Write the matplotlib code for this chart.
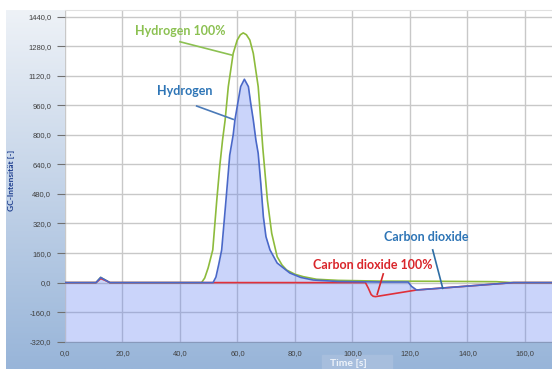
import matplotlib
matplotlib.use("Agg")
import matplotlib.pyplot as plt
import numpy as np
from matplotlib.colors import LinearSegmentedColormap

# chromatogram traces (time in s, intensity)
t_h2_100 = [0, 10.8, 12.4, 14.0, 15.6, 47.5, 48.6, 49.8, 51.4, 52.8, 53.9, 54.8, 55.7, 56.8, 58.5,
            59.9, 61.0, 62.0, 63.1, 64.3, 65.5, 67.2, 68.1, 68.8, 70.4, 71.9, 73.8, 75.5, 77.1,
            80.0, 82.9, 87.5, 95.0, 110.0, 130.0, 150.0, 155.8, 169.4]
h2_100 = [0, 0, 28, 14, 0, 0, 25, 80, 177, 447, 640, 772, 880, 1061, 1241,
          1313, 1342, 1352, 1342, 1313, 1241, 1061, 880, 730, 447, 267, 140, 95, 68,
          45, 32, 18, 12, 8, 7, 5, 0, 0]

t_h2 = [0, 10.8, 12.4, 14.0, 15.6, 51.5, 52.5, 53.5, 54.5, 56.0, 57.3, 58.5, 59.1, 60.1, 61.1,
        62.4, 63.8, 64.6, 65.5, 66.4, 67.2, 68.1, 69.0, 69.9, 71.3, 73.8, 78.2, 82.0, 86.3,
        95.0, 110.0, 119.4, 120.5, 122.3, 156.0, 169.4]
h2 = [0, 0, 28, 14, 0, 0, 30, 100, 177, 447, 690, 800, 880, 971, 1061,
      1101, 1061, 971, 880, 772, 700, 538, 357, 249, 177, 106, 52, 28, 14,
      6, 3, 3, -20, -40, 0, 0]

t_co2_100 = [0, 10.8, 12.4, 14.0, 15.6, 104.5, 105.5, 106.5, 107.2, 108.0, 122.3, 156.0, 169.4]
co2_100 = [0, 0, 22, 12, 0, 0, -30, -65, -74, -76, -40, 0, 0]

x_ticks = [0, 20, 40, 60, 80, 100, 120, 140, 160]
y_ticks = [-320, -160, 0, 160, 320, 480, 640, 800, 960, 1120, 1280, 1440]

W, H = 552, 369
fig = plt.figure(figsize=(W / 100, H / 100), dpi=100)
fig.patch.set_facecolor("white")

# blue gradient frame behind the plot
bg = fig.add_axes([6 / W, 0, 1 - 6 / W, 1 - 10 / H])
cmap = LinearSegmentedColormap.from_list("frame", ["#eef2f7", "#c3d3e8", "#98b5d9"])
bg.imshow(np.linspace(0, 1, 256).reshape(-1, 1), aspect="auto", cmap=cmap,
          extent=[0, 1, 0, 1], origin="upper")
bg.set_axis_off()
bg.add_patch(plt.Rectangle(((322 - 6) / (W - 6), 0), 70 / (W - 6), 14 / (H - 10),
                           transform=bg.transAxes, color="#a7bedd", zorder=2))

ax = fig.add_axes([65 / W, (H - 341.7) / H, (W - 65) / W, (341.7 - 10) / H])
ax.set_facecolor("white")
ax.set_xlim(0, 169.4)
ax.set_ylim(-320, 1476)

ax.set_xticks(x_ticks)
ax.set_yticks(y_ticks)
ax.set_xticklabels([f"{v:.1f}".replace(".", ",") for v in x_ticks])
ax.set_yticklabels([f"{v:.1f}".replace(".", ",") for v in y_ticks])
ax.tick_params(axis="y", length=6, width=0.8, color="#707070", pad=4,
               labelsize=5.5, labelcolor="#404040")
ax.tick_params(axis="x", length=0, pad=6, labelsize=5.5, labelcolor="#404040")
for lab in ax.get_xticklabels() + ax.get_yticklabels():
    lab.set_family("Liberation Sans")

ax.grid(True, color="#c8c8c8", linewidth=1.0, zorder=0.5)
ax.set_axisbelow(True)
for s in ["left", "right"]:
    ax.spines[s].set_visible(False)
ax.spines["top"].set_color("#e0e0e0")
ax.spines["bottom"].set_color("#8899bb")

ax.fill_between(t_h2, h2, -320, color="#5f7ff0", alpha=0.33, linewidth=0, zorder=1)
ax.plot(t_h2_100, h2_100, color="#8dbb3c", lw=1.2, zorder=3)
ax.plot(t_co2_100, co2_100, color="#e0303a", lw=1.2, zorder=3)
ax.plot(t_h2, h2, color="#4a68c8", lw=1.2, zorder=4)

lab_font = dict(family="Lato", weight="bold", fontsize=9, ha="center", va="center", zorder=6)
ax.text(40.0, 1362, "Hydrogen 100%", color="#8cc152", **lab_font)
ax.plot([40.0, 58.0], [1304, 1232], color="#8cc152", lw=1.2, zorder=5)
ax.text(41.8, 1037, "Hydrogen", color="#2e75b6", **lab_font)
ax.plot([45.8, 58.5], [956, 884], color="#4a7ab8", lw=1.2, zorder=5)
ax.text(125.6, 247, "Carbon dioxide", color="#2e75b6", **lab_font)
ax.plot([127.9, 131.4], [177, -31], color="#2e6da4", lw=1.2, zorder=5)
ax.text(107.0, 95, "Carbon dioxide 100%", color="#d9262b", **lab_font)
ax.plot([110.7, 108.6], [47, -63], color="#d9262b", lw=1.2, zorder=5)

fig.text(12 / W, 1 - 180 / H, "GC-Intensität [-]", rotation=90, ha="center", va="center",
         fontsize=6, weight="bold", color="#1f3f8f", family="Lato")
fig.text(348 / W, 1 - 363 / H, "Time [s]", ha="center", va="center",
         fontsize=7.5, weight="bold", color="#eef3fa", family="Lato")

fig.savefig("out.png", dpi=100)
